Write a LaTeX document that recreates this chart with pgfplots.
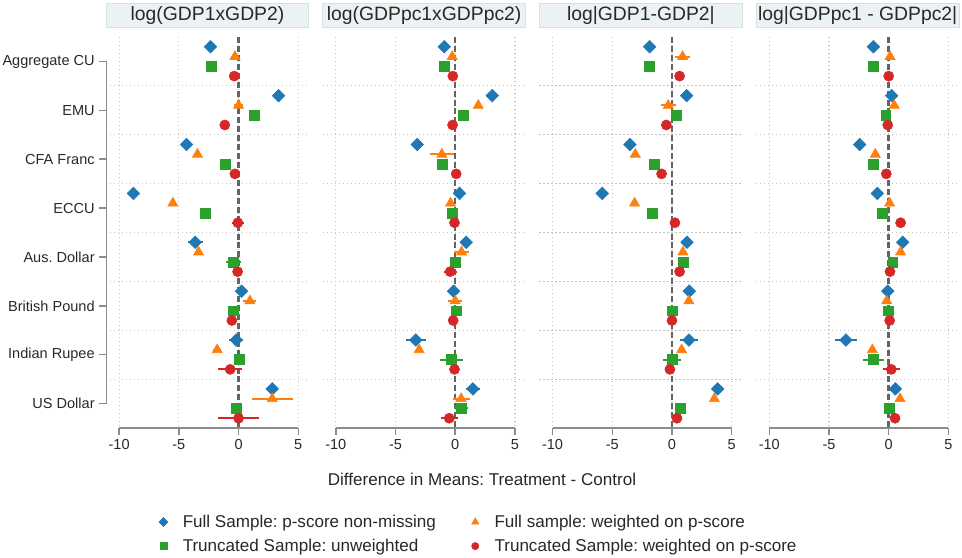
\documentclass[border=0pt]{standalone}
\usepackage{pgfplots}
\usepackage{pgfplotstable}
\pgfplotsset{compat=1.18}
\usepackage{fontspec}
\setmainfont{Liberation Sans}
\frenchspacing

\definecolor{cB}{RGB}{31,119,180}
\definecolor{cO}{RGB}{255,127,14}
\definecolor{cG}{RGB}{44,160,44}
\definecolor{cR}{RGB}{214,39,40}
\definecolor{axgray}{RGB}{140,140,140}
\definecolor{gridgray}{RGB}{195,195,195}
\definecolor{zerogray}{RGB}{100,100,100}
\definecolor{titlefill}{RGB}{234,242,243}
\definecolor{titledraw}{RGB}{212,224,228}
\definecolor{txt}{RGB}{40,40,40}

% g = group, b/o/gr/r = point estimates, *e = half width of the bar
\pgfplotstableread{
g b be o oe gr ge r re
0 -2.35 0.2 -0.30 0.30 -2.32 0.3 -0.36 0.3
1 3.35 0.2 0.00 0.40 1.34 0.2 -1.15 0.3
2 -4.36 0.2 -3.44 0.20 -1.09 0.2 -0.31 0.2
3 -8.80 0.2 -5.50 0.20 -2.80 0.3 -0.06 0.5
4 -3.63 0.64 -3.35 0.30 -0.42 0.6 -0.08 0.2
5 0.25 0.35 0.95 0.55 -0.42 0.45 -0.56 0.2
6 -0.20 0.6 -1.79 0.35 0.08 0.5 -0.70 1.0
7 2.82 0.35 2.82 1.72 -0.20 0.4 0.00 1.73
}\tA
\pgfplotstableread{
g b be o oe gr ge r re
0 -0.92 0.2 -0.25 0.25 -0.92 0.2 -0.20 0.2
1 3.10 0.2 1.93 0.20 0.64 0.2 -0.22 0.2
2 -3.18 0.2 -1.12 1.03 -1.12 0.2 0.08 0.3
3 0.36 0.3 -0.39 0.20 -0.25 0.2 -0.06 0.3
4 0.92 0.35 0.53 0.60 -0.03 0.2 -0.42 0.55
5 -0.14 0.3 0.00 0.60 0.06 0.3 -0.17 0.4
6 -3.30 0.83 -3.02 0.20 -0.31 0.95 -0.06 0.3
7 1.48 0.6 0.50 0.70 0.47 0.6 -0.50 0.7
}\tB
\pgfplotstableread{
g b be o oe gr ge r re
0 -1.87 0.2 0.89 0.65 -1.87 0.2 0.64 0.4
1 1.23 0.2 -0.31 0.63 0.36 0.2 -0.47 0.2
2 -3.52 0.2 -3.07 0.20 -1.45 0.2 -0.87 0.2
3 -5.84 0.2 -3.13 0.20 -1.65 0.2 0.25 0.2
4 1.26 0.2 0.92 0.20 0.95 0.2 0.64 0.2
5 1.45 0.2 1.42 0.20 0.00 0.2 0.00 0.2
6 1.42 0.72 0.81 0.20 0.00 0.75 -0.17 0.4
7 3.83 0.2 3.55 0.20 0.73 0.2 0.42 0.2
}\tC
\pgfplotstableread{
g b be o oe gr ge r re
0 -1.28 0.2 0.11 0.20 -1.28 0.2 0.00 0.2
1 0.25 0.2 0.47 0.20 -0.25 0.2 -0.08 0.2
2 -2.43 0.2 -1.12 0.30 -1.26 0.2 -0.20 0.3
3 -0.95 0.2 0.08 0.20 -0.56 0.2 1.00 0.2
4 1.17 0.3 1.00 0.20 0.34 0.3 0.11 0.2
5 -0.08 0.3 -0.17 0.20 -0.03 0.3 0.08 0.2
6 -3.58 0.9 -1.37 0.20 -1.28 0.87 0.22 0.73
7 0.56 0.4 0.95 0.20 0.08 0.35 0.53 0.2
}\tD

\pgfplotsset{
  panel/.style={
    scale only axis, width=152.25pt, height=293.25pt,
    anchor=north west,
    xmin=-11.1, xmax=5.9, ymin=-0.5, ymax=7.5, y dir=reverse,
    axis line style={draw=none},
    xtick={-10,-5,0,5}, xticklabels={-10,-5,0,5},
    xtick pos=bottom, ytick pos=left, tick align=outside,
    major tick length=5pt,
    tick style={color=axgray, line width=1.1pt},
    ytick=\empty,
    xmajorgrids,
    grid style={gridgray, line width=0.9pt, dash pattern=on 0.9pt off 2.1pt},
    extra y ticks={0.5,1.5,2.5,3.5,4.5,5.5,6.5},
    extra y tick labels={},
    extra y tick style={grid=major, major tick length=0pt},
    ticklabel style={font=\fontsize{10.9}{13}\selectfont, text=txt},
    title style={at={(0.5,1)}, anchor=south, yshift=0.75pt,
      fill=titlefill, draw=titledraw, line width=0.6pt,
      minimum width=152pt, minimum height=18pt, inner sep=0pt,
      font=\fontsize{14.5}{16}\selectfont, text=txt},
  },
  eb/.style={error bars/.cd, x dir=both, x explicit, error mark=none,
    error bar style={line width=1.5pt, #1}},
  sB/.style={only marks, color=cB, mark=square*, mark size=3.35pt,
    mark options={rotate=45}, eb=cB},
  sO/.style={only marks, color=cO, mark=triangle*, mark size=4.4pt, eb=cO},
  sG/.style={only marks, color=cG, mark=square*, mark size=3.7pt, eb=cG},
  sR/.style={only marks, color=cR, mark=*, mark size=3.8pt, eb=cR},
}

\newcommand{\series}[1]{%
  \addplot[forget plot, zerogray, line width=1.9pt, dash pattern=on 4.5pt off 2.2pt]
    coordinates {(0,-0.5) (0,7.5)};
  \addplot[sB] table[x=b, y expr=\thisrow{g}-0.3, x error=be] {#1};
  \addplot[sO] table[x=o, y expr=\thisrow{g}-0.1, x error=oe] {#1};
  \addplot[sG] table[x=gr, y expr=\thisrow{g}+0.1, x error=ge] {#1};
  \addplot[sR] table[x=r, y expr=\thisrow{g}+0.3, x error=re] {#1};
  \draw[axgray, line width=1.1pt] (axis cs:-10,7.5) -- (axis cs:5,7.5);
}

\begin{document}
\begin{tikzpicture}
\useasboundingbox (0,0) rectangle (721.5pt,-417.75pt);

\begin{axis}[panel, at={(79.5pt,-27.75pt)},
  title={log(GDP1xGDP2)},
  ytick={0,1,2,3,4,5,6,7},
  yticklabels={Aggregate CU,EMU,CFA Franc,ECCU,Aus. Dollar,British Pound,Indian Rupee,US Dollar},
  legend columns=2,
  legend cell align=left,
  legend image code/.code={%
    \path (-4.5pt,0pt) (14.25pt,0pt);
    \draw[#1, /tikz/every mark/.append style={scale=0.72}] plot coordinates {(0pt,0pt)};},
  legend style={at={(axis description cs:0.251,-0.218)}, anchor=north west,
    draw=none, fill=none, inner sep=0pt,
    font=\fontsize{12.8}{14}\selectfont, text=txt,
    row sep=5.3pt,
    /tikz/every even column/.append style={column sep=24.75pt},
    nodes={inner xsep=0pt, inner ysep=1pt}},
]
\series{\tA}
\draw[axgray, line width=1.1pt] (axis cs:-11.1,0) -- (axis cs:-11.1,7);
\legend{Full Sample: p-score non-missing, Full sample: weighted on p-score,
  Truncated Sample: unweighted, Truncated Sample: weighted on p-score}
\end{axis}

\begin{axis}[panel, at={(242pt,-27.75pt)}, title={log(GDPpc1xGDPpc2)}]
\series{\tB}
\end{axis}

\begin{axis}[panel, at={(404.55pt,-27.75pt)}, title={log|GDP1-GDP2|}]
\series{\tC}
\end{axis}

\begin{axis}[panel, at={(567.1pt,-27.75pt)}, title={log|GDPpc1 - GDPpc2|}]
\series{\tD}
\end{axis}

\node[font=\fontsize{12.8}{14}\selectfont, text=txt] at (361.5pt,-359.25pt)
  {Difference in Means: Treatment - Control};
\end{tikzpicture}
\end{document}
